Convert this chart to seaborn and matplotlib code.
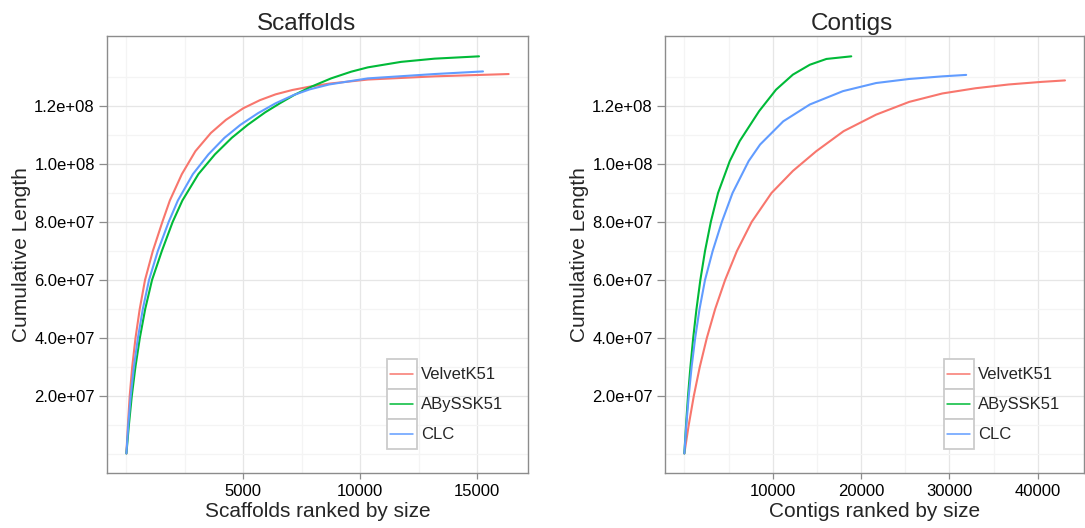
import numpy as np
import pandas as pd
import matplotlib
matplotlib.use("Agg")
import matplotlib.pyplot as plt
import seaborn as sns
from matplotlib.lines import Line2D
from matplotlib.patches import Rectangle
from matplotlib.legend_handler import HandlerBase
from matplotlib.ticker import FixedLocator, FuncFormatter

# ---------------- data ----------------
assemblies = ["VelvetK51", "ABySSK51", "CLC"]
palette = ["#F8766D", "#00BA38", "#619CFF"]

# Scaffolds: rank vs cumulative length (units of 1e7 bp)
scaf_velvet_rank = [1, 64, 141, 248, 390, 570, 797, 1131, 1538, 1859, 2373, 2952, 3616,
                    4258, 4999, 5715, 6383, 7099, 7806, 8680, 10329, 13182, 16352]
scaf_velvet_len = [0.02, 1.0, 2.0, 3.0, 4.0, 5.0, 6.0, 7.0, 8.0, 8.74, 9.65, 10.44, 11.07,
                   11.52, 11.92, 12.2, 12.4, 12.55, 12.66, 12.77, 12.91, 13.02, 13.10]

scaf_abyss_rank = [1, 107, 231, 386, 574, 805, 1097, 1517, 1979, 2395, 3080, 3787, 4507,
                   5192, 5938, 6563, 7184, 7900, 8757, 9613, 10329, 11755, 13182, 15084]
scaf_abyss_len = [0.02, 1.0, 2.0, 3.0, 4.0, 5.0, 6.0, 7.0, 8.0, 8.74, 9.65, 10.33, 10.9,
                  11.35, 11.78, 12.09, 12.38, 12.66, 12.95, 13.18, 13.33, 13.52, 13.63, 13.71]

scaf_clc_rank = [1, 81, 184, 321, 493, 703, 968, 1345, 1808, 2202, 2845, 3509, 4194,
                 4880, 5629, 6379, 7150, 7835, 8671, 10329, 13182, 15255]
scaf_clc_len = [0.02, 1.0, 2.0, 3.0, 4.0, 5.0, 6.0, 7.0, 8.0, 8.74, 9.65, 10.33, 10.9,
                11.35, 11.75, 12.09, 12.375, 12.57, 12.74, 12.95, 13.10, 13.19]

# Contigs: rank vs cumulative length (units of 1e7 bp)
cont_velvet_rank = [1, 495, 1069, 1744, 2543, 3488, 4613, 5951, 7616, 9866, 12285, 14929,
                    18023, 21701, 25448, 29194, 32951, 36698, 40444, 43076]
cont_velvet_len = [0.02, 1.0, 2.0, 3.0, 4.0, 5.0, 6.0, 7.0, 8.0, 9.0, 9.76, 10.44,
                   11.13, 11.70, 12.14, 12.43, 12.61, 12.74, 12.83, 12.88]

cont_abyss_rank = [1, 191, 416, 686, 1001, 1373, 1811, 2340, 2993, 3814, 5141, 6266,
                   8460, 10373, 12285, 14198, 16076, 18889]
cont_abyss_len = [0.02, 1.0, 2.0, 3.0, 4.0, 5.0, 6.0, 7.0, 8.0, 9.0, 10.1, 10.79,
                  11.82, 12.56, 13.08, 13.42, 13.62, 13.71]

cont_clc_rank = [1, 225, 495, 821, 1226, 1721, 2340, 3206, 4241, 5456, 7279, 8573,
                 11194, 14198, 17944, 21701, 25448, 29194, 31894]
cont_clc_len = [0.02, 1.0, 2.0, 3.0, 4.0, 5.0, 6.0, 7.0, 8.0, 9.0, 10.1, 10.67,
                11.47, 12.05, 12.51, 12.79, 12.93, 13.02, 13.07]

UNIT = 1e7


def make_df(series):
    rows = []
    for name, ranks, lens in series:
        for r, l in zip(ranks, lens):
            rows.append({"rank": r, "length": l * UNIT, "assembly": name})
    return pd.DataFrame(rows)


scaf_df = make_df([("VelvetK51", scaf_velvet_rank, scaf_velvet_len),
                   ("ABySSK51", scaf_abyss_rank, scaf_abyss_len),
                   ("CLC", scaf_clc_rank, scaf_clc_len)])
cont_df = make_df([("VelvetK51", cont_velvet_rank, cont_velvet_len),
                   ("ABySSK51", cont_abyss_rank, cont_abyss_len),
                   ("CLC", cont_clc_rank, cont_clc_len)])

# ---------------- style ----------------
sns.set_style("white")
plt.rcParams["font.family"] = ["Liberation Sans", "DejaVu Sans"]

BORDER = "#8C8C8C"
GRID_MAJOR = "#E6E6E6"
GRID_MINOR = "#F4F4F4"
FS_TICK = 12


class BoxedLine(HandlerBase):
    def create_artists(self, legend, orig_handle, xdescent, ydescent, width, height,
                       fontsize, trans):
        rect = Rectangle((-xdescent, -ydescent), width, height, facecolor="white",
                         edgecolor="#CCCCCC", linewidth=1.3, transform=trans)
        y = -ydescent + height / 2.0
        line = Line2D([-xdescent + 0.11 * width, -xdescent + 0.89 * width], [y, y],
                      color=orig_handle.get_color(), linewidth=1.1, transform=trans)
        return [rect, line]


fig = plt.figure(figsize=(10.85, 5.28), dpi=100)
ax1 = fig.add_axes([0.0989, 0.1036, 0.3875, 0.8273])
ax2 = fig.add_axes([0.6132, 0.1036, 0.3859, 0.8273], sharey=ax1)

panels = [
    (ax1, scaf_df, "Scaffolds", "Scaffolds ranked by size",
     [5000, 10000, 15000], [0, 2500, 7500, 12500], 0.474),
    (ax2, cont_df, "Contigs", "Contigs ranked by size",
     [10000, 20000, 30000, 40000], [0, 5000, 15000, 25000, 35000], 0.445),
]

y_major = [2e7, 4e7, 6e7, 8e7, 1e8, 1.2e8]
y_minor = [0, 1e7, 3e7, 5e7, 7e7, 9e7, 1.1e8, 1.3e8]

for ax, df, title, xlabel, xmaj, xmin, tx in panels:
    sns.lineplot(data=df, x="rank", y="length", hue="assembly", hue_order=assemblies,
                 palette=palette, estimator=None, sort=False, linewidth=1.5, ax=ax)
    ax.margins(x=0.05, y=0.05)
    ax.set_axisbelow(True)
    ax.xaxis.set_major_locator(FixedLocator(xmaj))
    ax.xaxis.set_minor_locator(FixedLocator(xmin))
    ax.yaxis.set_major_locator(FixedLocator(y_major))
    ax.yaxis.set_minor_locator(FixedLocator(y_minor))
    ax.xaxis.set_major_formatter(FuncFormatter(lambda v, p: "%d" % v))
    ax.yaxis.set_major_formatter(FuncFormatter(lambda v, p: "%.1e" % v))
    ax.grid(which="major", color=GRID_MAJOR, linewidth=0.9)
    ax.grid(which="minor", color=GRID_MINOR, linewidth=0.9)
    ax.tick_params(which="major", width=0.9, color=BORDER, pad=3.5,
                   labelsize=FS_TICK, labelcolor="black", labelleft=True,
                   bottom=True, left=True)
    ax.tick_params(axis="x", which="major", length=4.0)
    ax.tick_params(axis="y", which="major", length=5.5)
    ax.tick_params(which="minor", length=0)
    for s in ax.spines.values():
        s.set_color(BORDER)
        s.set_linewidth(1.0)
        s.set_visible(True)
    ax.set_title(title, fontsize=17.5, x=tx, pad=5)
    ax.set_xlabel(xlabel, fontsize=15, labelpad=2.5)
    ax.set_ylabel("Cumulative Length", fontsize=15, labelpad=2)

    handles, labels = ax.get_legend_handles_labels()
    ax.legend(handles, labels, handler_map={Line2D: BoxedLine()},
              loc="lower left", bbox_to_anchor=(0.6646, 0.055),
              frameon=False, fontsize=FS_TICK, handlelength=1.8, handleheight=2.39,
              labelspacing=0.0, handletextpad=0.25, borderpad=0.0,
              borderaxespad=0.0)

fig.savefig("out.png", dpi=100)
